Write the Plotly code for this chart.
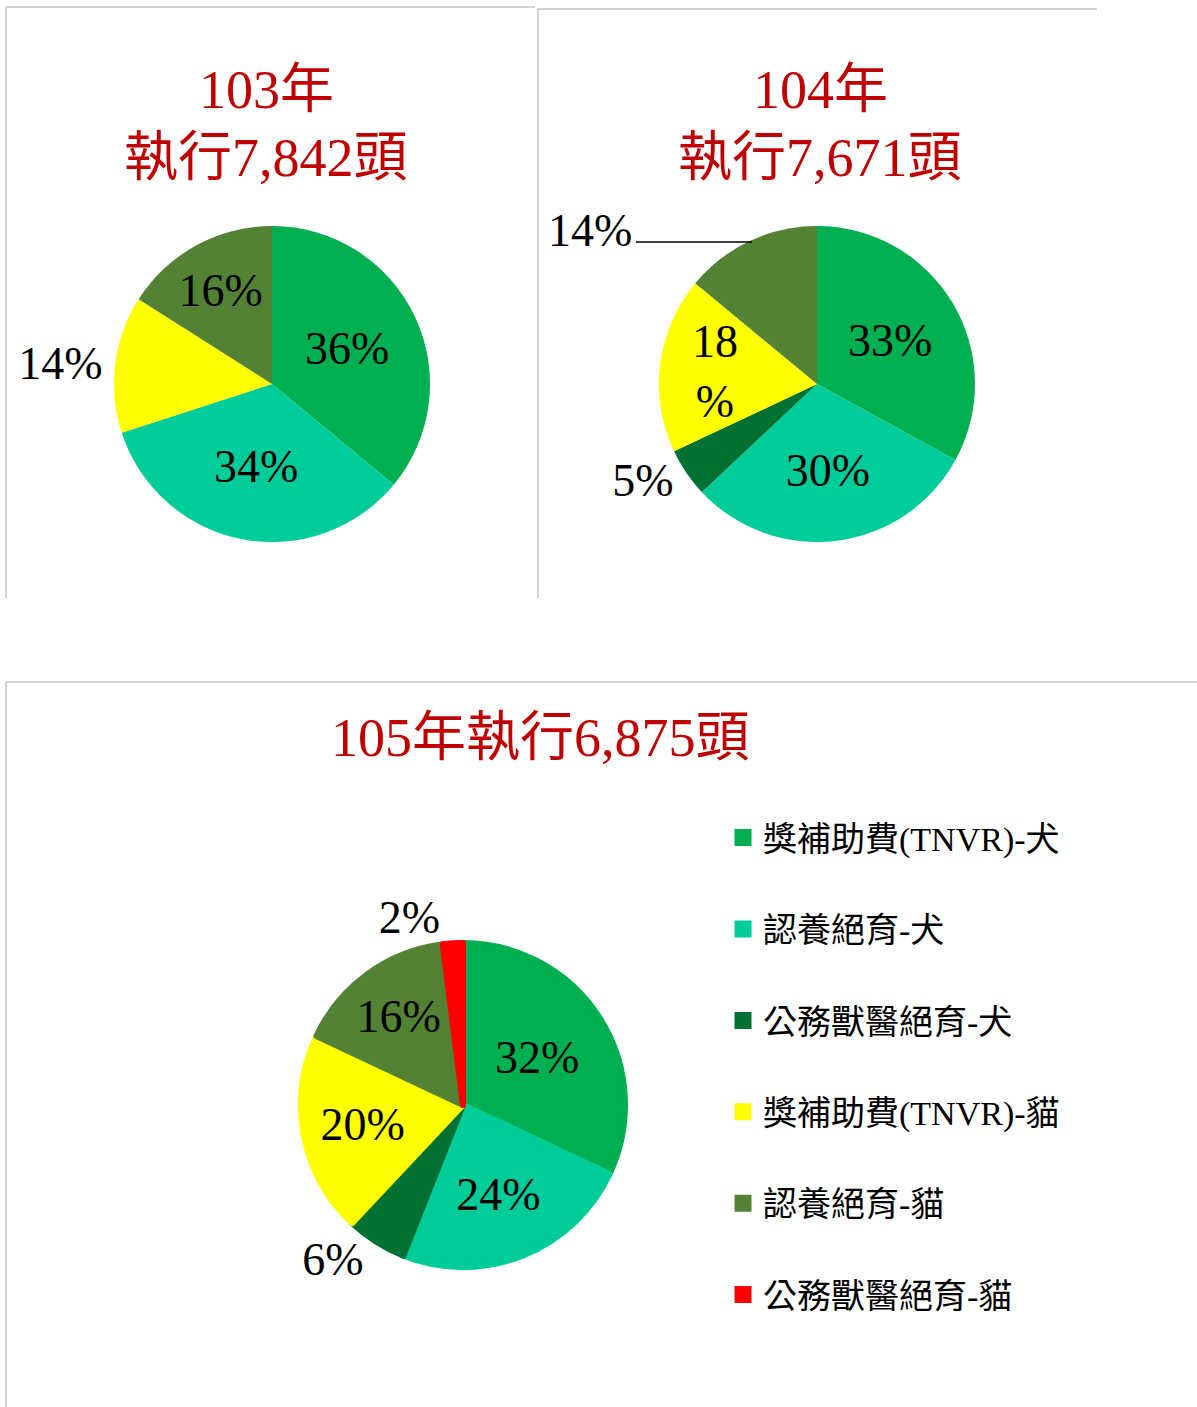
import plotly.graph_objects as go

W, H = 1197, 1407

categories = ["獎補助費(TNVR)-犬", "認養絕育-犬", "公務獸醫絕育-犬",
              "獎補助費(TNVR)-貓", "認養絕育-貓", "公務獸醫絕育-貓"]
colors = ["#00B050", "#00CC99", "#007033", "#FFFF00", "#548235", "#FF0000"]

pct_103 = [36, 34, 0, 14, 16, 0]
pct_104 = [33, 30, 5, 18, 14, 0]
pct_105 = [32, 24, 6, 20, 16, 2]

title_103 = ["103年", "執行7,842頭"]
title_104 = ["104年", "執行7,671頭"]
title_105 = "105年執行6,875頭"

pos_103 = ["inside", "inside", "none", "outside", "inside", "none"]
pos_104 = ["inside", "inside", "outside", "inside", "none", "none"]
pos_105 = ["inside", "inside", "outside", "inside", "inside", "outside"]


def X(x):
    return x / W


def Y(y):
    return 1 - y / H


LABEL_FONT = dict(family="Liberation Serif, Noto Sans CJK TC, serif", size=46, color="black")
TITLE_FONT = dict(family="Liberation Serif, Noto Sans CJK TC, serif", size=54, color="#C00000")

legend_labels = [c + "<br>\u00a0" for c in categories]


def pie(vals, pos, cx, cy, r, showlegend, texts=None, stroke=0):
    if texts is None:
        texts = [f"{v}%" for v in vals]
    return go.Pie(
        labels=legend_labels,
        values=vals,
        text=texts,
        textinfo="text",
        textposition=pos,
        insidetextorientation="horizontal",
        textfont=LABEL_FONT,
        marker=dict(colors=colors, line=dict(width=stroke, color=colors)),
        sort=False,
        direction="clockwise",
        rotation=0,
        showlegend=showlegend,
        hoverinfo="label+percent",
        domain=dict(x=[X(cx - r), X(cx + r)], y=[Y(cy + r), Y(cy - r)]),
    )


texts_104 = [f"{v}%" for v in pct_104]
texts_104[3] = f"{pct_104[3]}<br>%"

fig = go.Figure()
fig.add_trace(pie(pct_103, pos_103, 272, 384, 158, False))
fig.add_trace(pie(pct_104, pos_104, 817, 384, 158, False, texts_104))
fig.add_trace(pie(pct_105, pos_105, 463, 1105, 162, True, stroke=6))

annotations = [
    dict(x=X(266), y=Y(90), text=title_103[0]),
    dict(x=X(266), y=Y(158), text=title_103[1]),
    dict(x=X(820), y=Y(90), text=title_104[0]),
    dict(x=X(820), y=Y(158), text=title_104[1]),
    dict(x=X(540), y=Y(738), text=title_105),
]
annotations = [dict(a, xref="paper", yref="paper", showarrow=False, font=TITLE_FONT,
                    xanchor="center", yanchor="middle") for a in annotations]
# leader-lined outside label for 104 認養絕育-貓
annotations.append(dict(
    x=X(634), y=Y(230), xref="paper", yref="paper", xanchor="right", yanchor="middle",
    text=f"{pct_104[4]}%", font=LABEL_FONT, showarrow=False,
))

line_style = dict(color="#A6A6A6", width=1)
shapes = [
    dict(type="line", x0=X(6), y0=Y(7), x1=X(535), y1=Y(7)),
    dict(type="line", x0=X(6), y0=Y(7), x1=X(6), y1=Y(598)),
    dict(type="line", x0=X(538), y0=Y(9), x1=X(1097), y1=Y(9)),
    dict(type="line", x0=X(538), y0=Y(9), x1=X(538), y1=Y(598)),
    dict(type="line", x0=X(6), y0=Y(682), x1=X(1197), y1=Y(682)),
    dict(type="line", x0=X(6), y0=Y(682), x1=X(6), y1=Y(1407)),
]
shapes = [dict(s, xref="paper", yref="paper", line=line_style) for s in shapes]
# leader line
shapes.append(dict(type="line", xref="paper", yref="paper",
                   x0=X(636), y0=Y(242), x1=X(752), y1=Y(242),
                   line=dict(color="black", width=1.5)))

fig.update_layout(
    width=W, height=H,
    margin=dict(l=0, r=0, t=0, b=0),
    paper_bgcolor="white", plot_bgcolor="white",
    annotations=annotations,
    shapes=shapes,
    uniformtext=dict(minsize=46, mode="show"),
    legend=dict(
        x=X(723), y=Y(809), xanchor="left", yanchor="top",
        font=dict(family="Liberation Serif, Noto Sans CJK TC, serif", size=34, color="black"),
        valign="top", traceorder="normal", bgcolor="rgba(0,0,0,0)",
    ),
)

fig.write_html("out.html", config={"displayModeBar": False},
               post_script="document.body.style.margin='0';")
